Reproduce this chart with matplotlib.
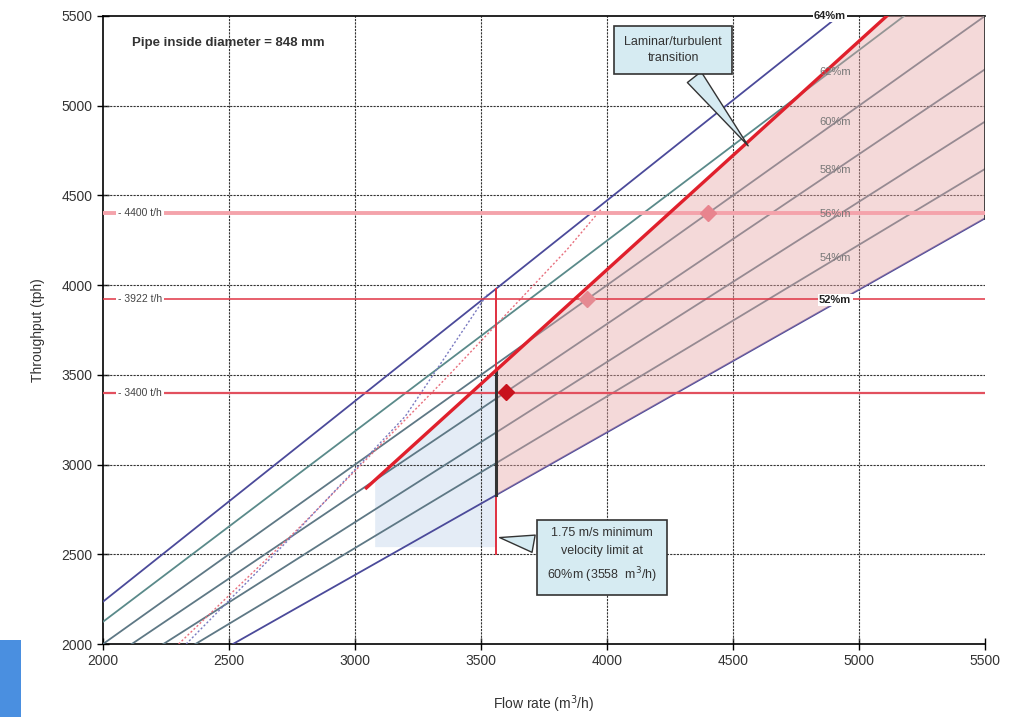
import numpy as np
import matplotlib.pyplot as plt
from matplotlib.patches import Polygon, Rectangle

plt.rcParams['font.family'] = ['Liberation Sans', 'DejaVu Sans']

# concentration lines: tph per m3/h
conc_labels = ['52%m', '54%m', '56%m', '58%m', '60%m', '62%m', '64%m']
conc_slope = [0.795, 0.845, 0.893, 0.946, 1.0, 1.062, 1.118]
conc_colors = ['#4b4a9a', '#5e7885', '#5e7885', '#5e7885', '#5e7885', '#5a8a8a', '#4b4a9a']
label_x = [4905, 4905, 4905, 4905, 4905, 4905, 4885]
label_y = [3917, 4151, 4396, 4642, 4909, 5188, 5500]

# laminar/turbulent transition line
trans_x = [3045, 5110]
trans_y = [2870, 5500]

# dotted curves
red_dot_x = [2300, 2780, 3360, 3840, 3975]
red_dot_y = [2000, 2650, 3480, 4196, 4420]
blue_dot_x = [2330, 2750, 3200, 3525]
blue_dot_y = [2000, 2600, 3270, 3950]

# design throughputs
tph_levels = [4400, 3922, 3400]
tph_colors = ['#f4a3ab', '#e03444', '#e2505e']
tph_widths = [2.8, 1.1, 1.6]
pt_x = [4400, 3922, 3600]
pt_y = [4400, 3922, 3405]
pt_colors = ['#e8848e', '#e58a92', '#c8121c']

v_limit = 3558

fig = plt.figure(figsize=(10.25, 7.17), dpi=100)
ax = fig.add_axes([0.1005, 0.1018, 0.8605, 0.8759])
ax.set_xlim(2000, 5500)
ax.set_ylim(2000, 5500)

def trans_at(x):
    return np.interp(x, trans_x, trans_y)

# light blue shading left of velocity limit
xb = [3080, 3080, v_limit, v_limit]
yb = [2540, trans_at(3080), trans_at(v_limit), 2540]
ax.add_patch(Polygon(list(zip(xb, yb)), closed=True, facecolor='#e4ecf6', edgecolor='none', zorder=1))

# grid
for v in np.arange(2500, 5500, 500):
    ax.axvline(v, color='#333333', lw=0.8, ls=(0, (2, 1)), zorder=2)
    ax.axhline(v, color='#333333', lw=0.8, ls=(0, (2, 1)), zorder=2)

xs = np.array([1500, 5500])
for k, c in zip(conc_slope, conc_colors):
    ax.plot(xs, k * xs, color=c, lw=1.3, zorder=3)

ax.plot(red_dot_x, red_dot_y, color='#e8707e', lw=1.0, ls=(0, (1.5, 1.5)), zorder=3)
ax.plot(blue_dot_x, blue_dot_y, color='#7a7ac0', lw=1.0, ls=(0, (1.5, 1.5)), zorder=3)

# pink operating region
k52 = conc_slope[0]
xp = [v_limit, v_limit, trans_x[1], 5500, 5500]
yp = [k52 * v_limit, trans_at(v_limit), 5500, 5500, k52 * 5500]
ax.add_patch(Polygon(list(zip(xp, yp)), closed=True, facecolor='#e6a5a5', alpha=0.42,
                     edgecolor='none', zorder=4))
ax.plot([5500, 5500], [k52 * 5500, 5500], color='#333333', lw=2, zorder=5)

# throughput levels
for lvl, c, w in zip(tph_levels, tph_colors, tph_widths):
    ax.axhline(lvl, color=c, lw=w, zorder=5)
    ax.text(2060, lvl, '- ' + str(lvl) + ' t/h', fontsize=7.5, color='#444444', va='center',
            ha='left', zorder=7, bbox=dict(facecolor='white', edgecolor='none', pad=1.5))

# velocity limit
ax.plot([v_limit, v_limit], [2500, conc_slope[-1] * v_limit], color='#e03040', lw=1.4, zorder=5)
ax.plot([v_limit, v_limit], [k52 * v_limit, trans_at(v_limit)], color='#333333', lw=2.2, zorder=6)

ax.plot(trans_x, trans_y, color='#e0202c', lw=2.4, zorder=6)

for x, y, c in zip(pt_x, pt_y, pt_colors):
    ax.plot(x, y, marker='D', ms=8, color=c, zorder=8, ls='none')

for lab, x, y in zip(conc_labels, label_x, label_y):
    if lab in ('64%m', '52%m'):
        ax.text(x, y, lab, fontsize=8, color='#222222', fontweight='bold', ha='center',
                va='center', zorder=9, bbox=dict(facecolor='white', edgecolor='none', pad=1))
    else:
        ax.text(x, y, lab, fontsize=8, color='#777777', ha='center', va='center', zorder=9)

ax.text(2115, 5350, 'Pipe inside diameter = 848 mm', fontsize=9.5, fontweight='bold',
        color='#333333', va='center', zorder=9)

box = dict(boxstyle='square,pad=0.8', facecolor='#d6ebf2', edgecolor='#333333', lw=1.2)
ax.annotate('Laminar/turbulent\ntransition', xy=(4567, 4764), xytext=(4262, 5310),
            ha='center', va='center', fontsize=9, color='#333333', linespacing=1.5,
            bbox=box, zorder=10,
            arrowprops=dict(arrowstyle='wedge,tail_width=1.4', fc='#d6ebf2', ec='#333333', lw=1))
ax.annotate('1.75 m/s minimum\nvelocity limit at\n60%m (3558  m$^3$/h)', xy=(3563, 2596),
            xytext=(3980, 2490), ha='center', va='center', fontsize=9, color='#333333',
            linespacing=1.6, bbox=box, zorder=10,
            arrowprops=dict(arrowstyle='wedge,tail_width=1.4', fc='#d6ebf2', ec='#333333', lw=1))

ax.set_xticks(np.arange(2000, 5501, 500))
ax.set_yticks(np.arange(2000, 5501, 500))
ax.tick_params(direction='inout', length=8, width=1, labelsize=10, labelcolor='#333333')
ax.spines['right'].set_visible(False)
for s in ('left', 'bottom', 'top'):
    ax.spines[s].set_linewidth(1.2)
ax.set_xlabel('Flow rate (m$^3$/h)', fontsize=10, color='#333333', labelpad=18)
ax.set_ylabel('Throughput (tph)', fontsize=10, color='#333333', labelpad=12)

fig.patches.append(Rectangle((0, 0), 21 / 1025, 77 / 717, transform=fig.transFigure,
                             facecolor='#4a8fe0', edgecolor='none'))

fig.savefig('out.png', dpi=100)
